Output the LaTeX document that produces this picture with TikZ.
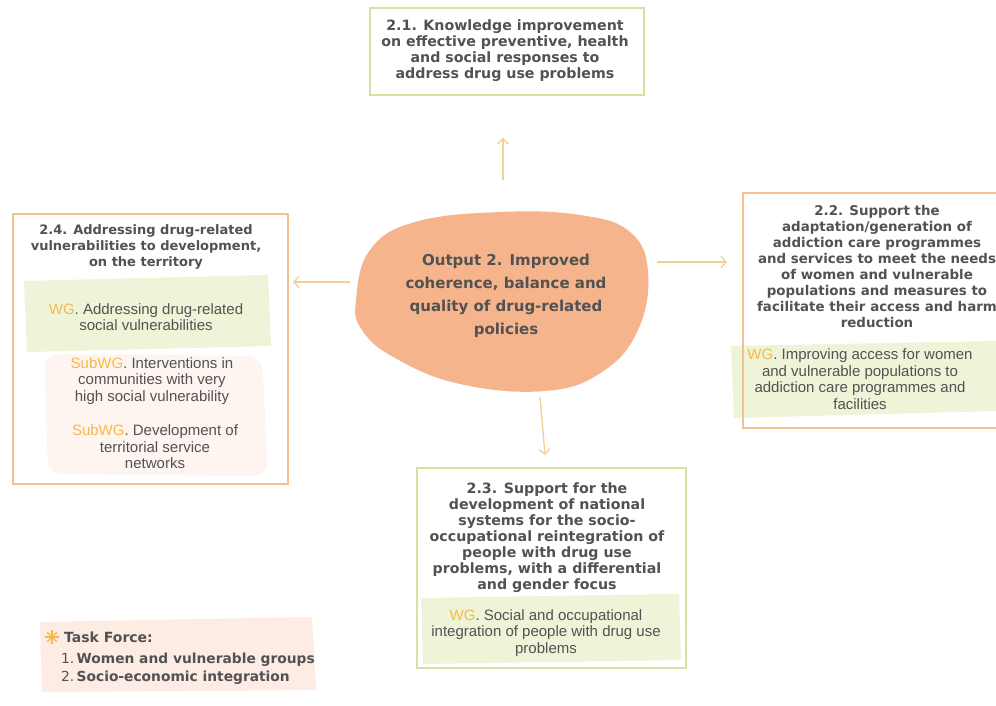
\documentclass[tikz,border=0pt]{standalone}
\usepackage{fontspec}
\setmainfont{Liberation Sans}
\newfontfamily\hdfont{DejaVu Sans}
\usetikzlibrary{arrows.meta}
\definecolor{txt}{HTML}{525252}
\definecolor{grnb}{HTML}{D6E2A2}
\definecolor{orgb}{HTML}{F4C08E}
\definecolor{blobc}{HTML}{F5B48C}
\definecolor{wgc}{HTML}{F6B947}
\definecolor{wgbg}{HTML}{EEF4D8}
\definecolor{subbg}{HTML}{FEF5F0}
\definecolor{tfbg}{HTML}{FDECE3}
\definecolor{arr}{HTML}{F6CD96}
\begin{document}
\begin{tikzpicture}[x=1pt,y=-1pt,
  box/.style={draw, line width=1.5pt, inner sep=0, fill=none},
  gbox/.style={box, draw=grnb},
  obox/.style={box, draw=orgb},
  head/.style={font=\hdfont\bfseries\fontsize{#1}{16}\selectfont, text=txt, align=center, inner sep=0},
  head/.default=13.3,
  ctext/.style={font=\hdfont\bfseries\fontsize{15}{23}\selectfont, text=txt, align=center, inner sep=0},
  body/.style={font=\fontsize{15}{16.5}\selectfont, text=txt, align=center, inner sep=0},
  conn/.style={draw=arr, line width=1.3pt, -{Straight Barb[length=5pt,width=11pt]}},
  tfs/.style={anchor=west, inner sep=0, text=txt, font=\hdfont\fontsize{13.8}{16}\selectfont},
]
\clip (0,0) rectangle (996,705);
\fill[white] (0,0) rectangle (996,705);

% background highlights
\fill[wgbg] (24,281) -- (268,275) -- (271,346) -- (27,352) -- cycle;
\fill[subbg, rounded corners=14pt] (44,354) -- (262,356) -- (268,476) -- (48,474) -- cycle;
\fill[wgbg] (731,346) -- (996,341) -- (996,411) -- (734,418) -- cycle;
\fill[wgbg] (421,598) -- (679,594) -- (681,660) -- (423,664) -- cycle;
\fill[tfbg] (40,622) -- (312,617) -- (316,690) -- (42,692) -- cycle;

% boxes
\node[gbox, minimum width=274pt, minimum height=87pt] (b21) at (507,51.5) {};
\node[obox, minimum width=275pt, minimum height=270pt] (b24) at (150.5,349) {};
\node[obox, minimum width=270pt, minimum height=235pt] (b22) at (878,310.5) {};
\node[gbox, minimum width=269pt, minimum height=200pt] (b23) at (551.5,568) {};

% central blob
\fill[blobc] plot[smooth cycle, tension=0.7] coordinates {(356,300) (370,250) (415,222) (500,212) (580,215) (630,232) (648,272) (638,330) (602,372) (545,391) (460,384) (395,358) (362,330)};
\node[ctext] (c) at (506,296) {Output 2. Improved\\coherence, balance and\\quality of drug-related\\policies};

% headings
\node[head=14.2] (h21) at (505,51) {2.1. Knowledge improvement\\on effective preventive, health\\and social responses to\\address drug use problems};
\node[head=13] (h24) at (146,247) {2.4. Addressing drug-related\\vulnerabilities to development,\\on the territory};
\node[head=13.4] (h22) at (877,266) {2.2. Support the\\adaptation/generation of\\addiction care programmes\\and services to meet the needs\\of women and vulnerable\\populations and measures to\\facilitate their access and harm\\reduction};
\node[head=14.2] (h23) at (547,538) {2.3. Support for the\\development of national\\systems for the socio-\\occupational reintegration of\\people with drug use\\problems, with a differential\\and gender focus};

% working groups
\node[body] (wg24) at (146,317) {\textcolor{wgc}{WG}. Addressing drug-related\\social vulnerabilities};
\node[body] (s1) at (152,381) {\textcolor{wgc}{SubWG}. Interventions in\\communities with very\\high social vulnerability};
\node[body] (s2) at (155,447) {\textcolor{wgc}{SubWG}. Development of\\territorial service\\networks};
\node[body] (wg22) at (860,379) {\textcolor{wgc}{WG}. Improving access for women\\and vulnerable populations to\\addiction care programmes and\\facilities};
\node[body] (wg23) at (546,633) {\textcolor{wgc}{WG}. Social and occupational\\integration of people with drug use\\problems};

% connectors
\coordinate (uA) at (503,180); \coordinate (uB) at (503,138);
\coordinate (rA) at (657,262); \coordinate (rB) at (727,262);
\coordinate (lA) at (350,282); \coordinate (lB) at (293,282);
\coordinate (dA) at (540,397); \coordinate (dB) at (545,455);
\draw[conn] (uA) -- (uB);
\draw[conn] (rA) -- (rB);
\draw[conn] (lA) -- (lB);
\draw[conn] (dA) -- (dB);

% task force
\coordinate (star) at (52,637);
\foreach \a in {0,45,...,315} \draw[wgc, line width=1.1pt] (star) -- ++(\a:7);
\node[tfs, font=\hdfont\bfseries\fontsize{14}{16}\selectfont] (tf) at (64,637) {Task Force:};
\node[tfs] (tf1) at (61,660) {1.\,\textbf{Women and vulnerable groups}};
\node[tfs] (tf2) at (61,678) {2.\,\textbf{Socio-economic integration}};
\end{tikzpicture}
\end{document}
